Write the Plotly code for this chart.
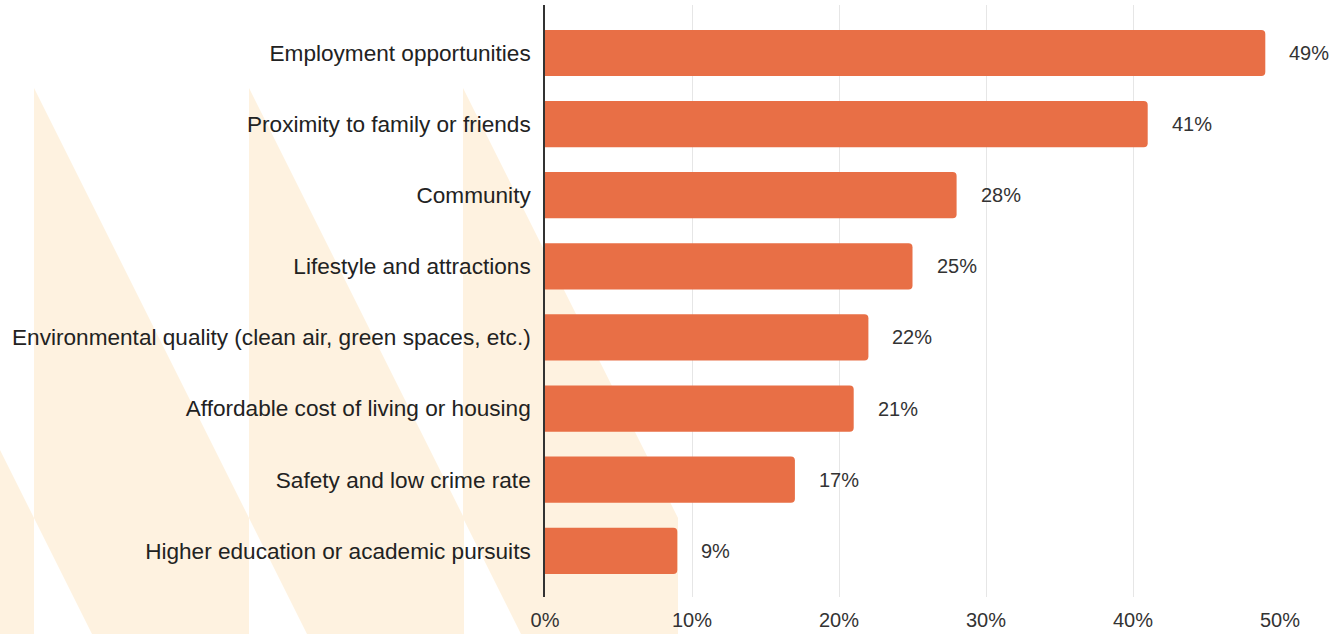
import plotly.graph_objects as go

# Reasons for choosing where to live (share of respondents)
categories = [
    "Employment opportunities",
    "Proximity to family or friends",
    "Community",
    "Lifestyle and attractions",
    "Environmental quality (clean air, green spaces, etc.)",
    "Affordable cost of living or housing",
    "Safety and low crime rate",
    "Higher education or academic pursuits",
]
shares = [0.49, 0.41, 0.28, 0.25, 0.22, 0.21, 0.17, 0.09]
value_labels = ["49%", "41%", "28%", "25%", "22%", "21%", "17%", "9%"]
tick_values = [0, 0.1, 0.2, 0.3, 0.4, 0.5]
tick_labels = ["0%", "10%", "20%", "30%", "40%", "50%"]

W, H = 1332, 634
ML, MR, MT, MB = 545, 52, 5, 37
PW, PH = W - ML - MR, H - MT - MB

BAR = "#E86F46"
CREAM = "#FEF2E0"
TEXT = "#222222"
FONT = "Liberation Sans, Arial, sans-serif"


def px_to_paper(x, y):
    return (x - ML) / PW, (H - MB - y) / PH


# Slanted backdrop pattern: parallelogram bands with vertical sides
backdrop = []
col_w, top, drop = 215, 88, 430
for left in (-181, 34, 249, 463):
    pts = [(left, top), (left + col_w, top + drop),
           (left + col_w, top + 2 * drop), (left, top + drop)]
    pp = [px_to_paper(x, y) for x, y in pts]
    path = "M " + " L ".join(f"{a:.5f},{b:.5f}" for a, b in pp) + " Z"
    backdrop.append(dict(type="path", path=path, xref="paper", yref="paper",
                         fillcolor=CREAM, line=dict(width=0), layer="below"))

fig = go.Figure(go.Bar(
    x=shares, y=categories, orientation="h",
    marker=dict(color=BAR, line=dict(width=0), cornerradius=4),
    hoverinfo="skip",
))

annotations = [
    dict(x=v, y=c, text=t, xref="x", yref="y", showarrow=False,
         xanchor="left", xshift=22, font=dict(family=FONT, size=20, color="#333333"))
    for v, c, t in zip(shares, categories, value_labels)
]

fig.update_layout(
    width=W, height=H,
    margin=dict(l=ML, r=MR, t=MT, b=MB, pad=0),
    paper_bgcolor="white",
    plot_bgcolor="rgba(0,0,0,0)",
    bargap=0.35,
    showlegend=False,
    shapes=backdrop,
    annotations=annotations,
    font=dict(family=FONT, color=TEXT),
    xaxis=dict(
        range=[0, 0.5], tickvals=tick_values, ticktext=tick_labels,
        showgrid=True, gridcolor="#E6E6E6", gridwidth=1,
        zeroline=False, showline=False,
        ticks="outside", ticklen=5, tickcolor="rgba(0,0,0,0)",
        tickfont=dict(family=FONT, size=20, color="#333333"),
        automargin=False, fixedrange=True,
    ),
    yaxis=dict(
        categoryorder="array", categoryarray=categories,
        range=[7.65, -0.675],
        showgrid=False, zeroline=False,
        showline=True, linecolor="#333333", linewidth=1.5,
        ticks="", ticklabelstandoff=8,
        tickfont=dict(family=FONT, size=22.6, color=TEXT),
        automargin=False, fixedrange=True,
    ),
)

fig.write_html("out.html")
